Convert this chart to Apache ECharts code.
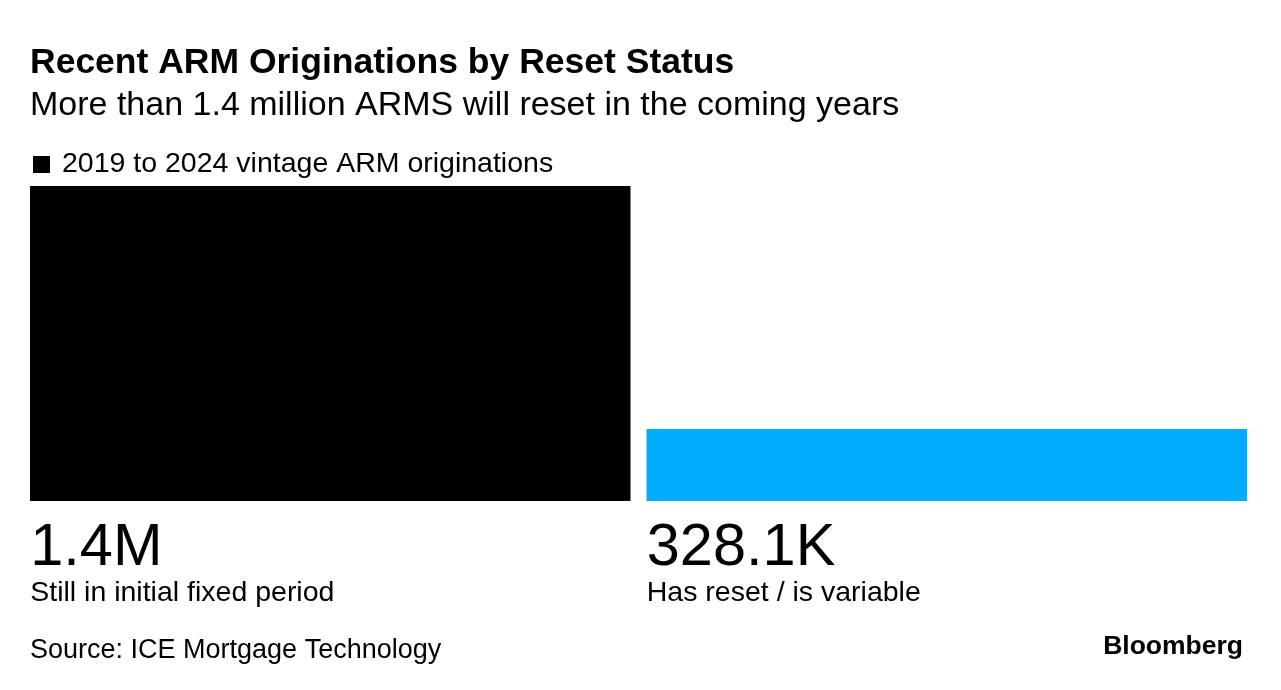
<!DOCTYPE html>
<html><head><meta charset="utf-8">
<script src="https://cdn.jsdelivr.net/npm/echarts@6/dist/echarts.min.js"></script>
<style>html,body{margin:0;padding:0;background:#fff}#c{width:1281px;height:690px}</style>
</head><body><div id="c"></div>
<script>
const categories = ['Still in initial fixed period', 'Has reset / is variable'];
const values = [1436000, 328100];
const valueLabels = ['1.4M', '328.1K'];
const barColors = ['#000000', '#00adff'];
const seriesName = '2019 to 2024 vintage ARM originations';

const FONT = '"Liberation Sans", Arial, Helvetica, sans-serif';
const chart = echarts.init(document.getElementById('c'), null, {renderer: 'canvas'});
chart.setOption({
  backgroundColor: '#fff',
  animation: false,
  textStyle: {fontFamily: FONT},
  title: {
    left: 25, top: 40,
    text: 'Recent ARM Originations by Reset Status',
    subtext: 'More than 1.4 million ARMS will reset in the coming years',
    itemGap: 8,
    textStyle: {fontFamily: FONT, fontSize: 35.5, fontWeight: 'bold', color: '#000'},
    subtextStyle: {fontFamily: FONT, fontSize: 34, color: '#000'}
  },
  legend: {
    left: 28, top: 145,
    icon: 'rect', itemWidth: 17, itemHeight: 17, itemGap: 10,
    data: [{name: seriesName, itemStyle: {color: '#000'}}],
    textStyle: {fontFamily: FONT, fontSize: 28.5, color: '#000', padding: [0,0,0,7]},
    selectedMode: false
  },
  grid: {left: 22, right: 26, top: 186, bottom: 189, containLabel: false},
  xAxis: {
    type: 'category', data: categories,
    axisLine: {show: false}, axisTick: {show: false}, axisLabel: {show: false}
  },
  yAxis: {
    type: 'value', min: 0, max: values[0],
    show: false, splitLine: {show: false}
  },
  series: [{
    name: seriesName, type: 'bar', barWidth: 600.5,
    data: values.map((v, i) => ({value: v, itemStyle: {color: barColors[i]}})),
    label: {
      show: true, position: 'bottom', align: 'left', offset: [-300, 14],
      verticalAlign: 'top',
      formatter: p => '{v|' + valueLabels[p.dataIndex] + '}\n{c|' + categories[p.dataIndex] + '}',
      rich: {
        v: {fontFamily: FONT, fontSize: 59.5, color: '#000', lineHeight: 58},
        c: {fontFamily: FONT, fontSize: 28.5, color: '#000', lineHeight: 30}
      }
    }
  }],
  graphic: [
    {type: 'text', left: 30, top: 637, style: {text: 'Source: ICE Mortgage Technology', fontFamily: FONT, fontSize: 27, fill: '#000'}},
    {type: 'text', right: 38, top: 633, style: {text: 'Bloomberg', fontFamily: FONT, fontSize: 26.5, fontWeight: 'bold', fill: '#000'}}
  ]
});
</script></body></html>
